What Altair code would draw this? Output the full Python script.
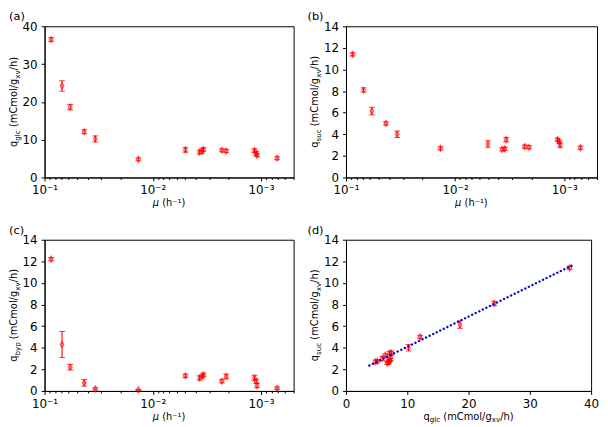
import altair as alt
import pandas as pd

# specific growth rate (h^-1) and the three specific rates with their errors
mu = [0.087, 0.069, 0.058, 0.043, 0.034, 0.0136, 0.0050, 0.0037, 0.0035, 0.0034,
      0.0023, 0.0021, 0.00115, 0.00111, 0.00109, 0.00071]
q_glc = [36.5, 24.2, 18.6, 12.1, 10.2, 4.8, 7.3, 6.7, 7.0, 7.4, 7.2, 7.0, 7.1, 6.4, 5.9, 5.1]
q_glc_err = [0.5, 1.4, 0.7, 0.5, 0.8, 0.4, 0.6, 0.5, 0.6, 0.5, 0.4, 0.4, 0.5, 0.5, 0.4, 0.4]
q_suc = [11.4, 8.1, 6.15, 5.0, 4.0, 2.7, 3.1, 2.6, 2.65, 3.5, 2.85, 2.8, 3.5, 3.3, 3.0, 2.75]
q_suc_err = [0.15, 0.2, 0.35, 0.15, 0.3, 0.15, 0.3, 0.15, 0.15, 0.2, 0.15, 0.15, 0.15, 0.15, 0.2, 0.15]
q_byp = [12.2, 4.3, 2.2, 0.75, 0.2, 0.1, 1.4, 1.2, 1.35, 1.5, 0.9, 1.35, 1.2, 0.9, 0.5, 0.25]
q_byp_err = [0.15, 1.2, 0.25, 0.3, 0.1, 0.05, 0.15, 0.2, 0.15, 0.15, 0.15, 0.2, 0.25, 0.2, 0.2, 0.12]

# linear fit q_suc vs q_glc, end points
fit_glc = [3.8, 37.0]
fit_suc = [2.35, 11.65]

# log axis ticks (major ones get labels)
mu_ticks = [0.1, 0.09, 0.08, 0.07, 0.06, 0.05, 0.04, 0.03, 0.02,
            0.01, 0.009, 0.008, 0.007, 0.006, 0.005, 0.004, 0.003, 0.002,
            0.001, 0.0009, 0.0008, 0.0007, 0.0006, 0.0005]
mu_major = [0.1, 0.01, 0.001]
mu_labels = ["10⁻¹", "10⁻²", "10⁻³"]

df = pd.DataFrame({
    "mu": mu, "glc": q_glc, "glc_e": q_glc_err, "suc": q_suc, "suc_e": q_suc_err,
    "byp": q_byp, "byp_e": q_byp_err,
})
fit = pd.DataFrame({"glc": fit_glc, "suc": fit_suc})

RED = "#ff0000"
FONT = "DejaVu Sans"
TITLE_SIZE = 10
DIAMOND = "M0,-1L0.6,0L0,1L-0.6,0Z"

# rough DejaVu Sans advance widths (em)
W = {"q": .635, "g": .635, "l": .278, "c": .55, " ": .318, "(": .39, ")": .39,
     "m": .974, "C": .698, "o": .612, "/": .337, "x": .592, "v": .592, "h": .634,
     "s": .521, "u": .634, "b": .635, "y": .592, "p": .635, "μ": .636, "⁻": .5, "¹": .45}


def rich_text(pieces, cx, cy, vertical):
    # pieces: (text, subscript?, italic?) laid out one after another
    sizes = [TITLE_SIZE * 0.72 if sub else TITLE_SIZE for _, sub, _ in pieces]
    widths = [sum(W.get(ch, .6) for ch in t) * s for (t, _, _), s in zip(pieces, sizes)]
    offset = -sum(widths) / 2
    layers = []
    for (t, sub, ital), s, w in zip(pieces, sizes, widths):
        lead = (len(t) - len(t.lstrip())) * W[" "] * s  # svg drops leading blanks
        pos = offset + lead
        shift = 2.8 if sub else 0
        if vertical:
            px, py, ang = cx + shift, cy - pos, 270
        else:
            px, py, ang = cx + pos, cy + shift, 0
        layers.append(
            alt.Chart(pd.DataFrame({"k": [0]})).mark_text(
                text=t.lstrip(), font=FONT, fontSize=s, align="left", baseline="alphabetic",
                angle=ang, fontStyle="italic" if ital else "normal", color="#000"
            ).encode(x=alt.value(px), y=alt.value(py))
        )
        offset += w
    return layers


def q_title(name):
    return [("q", False, False), (name, True, False), (" (mCmol/g", False, False),
            ("xv", True, False), ("/h)", False, False)]


mu_title = [("μ", False, True), (" (h⁻¹)", False, False)]

major_test = "indexof(%s, datum.value) >= 0" % mu_major
label_expr = " : ".join(
    "datum.value == %s ? '%s'" % (v, l) for v, l in zip(mu_major, mu_labels)
) + " : ''"


def panel(tag, ycol, ymax, ystep, yname, w, h, log_x=True, tag_dx=-36):
    if log_x:
        xcol = "mu"
        xscale = alt.Scale(type="log", domain=[0.0005, 0.1], reverse=True, nice=False)
        xaxis = alt.Axis(values=mu_ticks, labelExpr=label_expr, title=None, labelOverlap=False,
                         labelPadding=4,
                         tickSize={"condition": {"test": major_test, "value": 3.5}, "value": 2})
        xtitle = mu_title
    else:
        xcol = "glc"
        xscale = alt.Scale(domain=[0, 40], nice=False)
        xaxis = alt.Axis(values=[0, 10, 20, 30, 40], title=None, labelOverlap=False, labelPadding=4)
        xtitle = q_title("glc")
    yscale = alt.Scale(domain=[0, ymax], nice=False)
    yaxis = alt.Axis(values=list(range(0, ymax + 1, ystep)), title=None, labelOverlap=False,
                     labelPadding=4)

    def X(f):
        return alt.X(f + ":Q", scale=xscale, axis=xaxis)

    def Y(f):
        return alt.Y(f + ":Q", scale=yscale, axis=yaxis)

    base = alt.Chart(df).transform_calculate(
        lo="datum.%s - datum.%s_e" % (ycol, ycol), hi="datum.%s + datum.%s_e" % (ycol, ycol)
    )
    bars = base.mark_rule(color=RED, strokeWidth=1.1).encode(x=X(xcol), y=Y("lo"), y2="hi:Q")
    cap_lo = base.mark_tick(color=RED, orient="horizontal", size=6, thickness=1.1).encode(
        x=X(xcol), y=Y("lo"))
    cap_hi = base.mark_tick(color=RED, orient="horizontal", size=6, thickness=1.1).encode(
        x=X(xcol), y=Y("hi"))
    pts = base.mark_point(shape=DIAMOND, size=38, filled=False, color=RED, strokeWidth=1.1).encode(
        x=X(xcol), y=Y(ycol))
    layers = [bars, cap_lo, cap_hi, pts]
    if not log_x:
        layers.append(
            alt.Chart(fit).mark_line(color="#0a0ad8", strokeWidth=2.4, strokeDash=[0.1, 3.9],
                                     strokeCap="round").encode(x=X("glc"), y=Y("suc"))
        )
    layers += rich_text(q_title(yname), -28, h / 2, True)
    layers += rich_text(xtitle, w / 2, h + 29, False)
    layers.append(
        alt.Chart(pd.DataFrame({"k": [0]})).mark_text(
            text="(%s)" % tag, font=FONT, fontSize=11.5, align="left", baseline="alphabetic", color="#000"
        ).encode(x=alt.value(tag_dx), y=alt.value(-6))
    )
    return alt.layer(*layers).properties(width=w, height=h)


a = panel("a", "glc", 40, 10, "glc", 252, 153)
b = panel("b", "suc", 14, 2, "suc", 254, 153, tag_dx=-39)
c = panel("c", "byp", 14, 2, "byp", 252, 153)
d = panel("d", "suc", 14, 2, "suc", 248, 153, log_x=False, tag_dx=-39)

chart = alt.vconcat(
    alt.hconcat(a, b, spacing=12),
    alt.hconcat(c, d, spacing=12),
    spacing=15,
).properties(
    padding={"left": 0, "top": 0, "right": 0, "bottom": 0}
).configure_axis(
    grid=False, labelFont=FONT, labelFontSize=12, labelColor="#000", tickColor="#000",
    domainColor="#000", labelFlush=False, tickSize=3.5
).configure_view(
    stroke="#000", strokeWidth=1
)

chart.save("out.html", embed_options={"renderer": "svg", "actions": False})
